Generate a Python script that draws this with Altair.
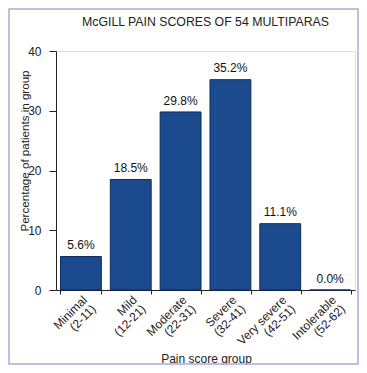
import altair as alt
import pandas as pd

categories = ["Minimal\n(2-11)", "Mild\n(12-21)", "Moderate\n(22-31)",
              "Severe\n(32-41)", "Very severe\n(42-51)", "Intolerable\n(52-62)"]
percentages = [5.6, 18.5, 29.8, 35.2, 11.1, 0.0]
value_labels = ["5.6%", "18.5%", "29.8%", "35.2%", "11.1%", "0.0%"]
y_ticks = [0, 5, 10, 15, 20, 25, 30, 35, 40]

df = pd.DataFrame({"cat": categories, "pct": percentages, "lab": value_labels})

W, H = 299, 239
FONT = "Liberation Sans"
BAR = "#1c4a8e"

x_enc = alt.X(
    "cat:N", sort=categories,
    scale=alt.Scale(paddingInner=0.18, paddingOuter=0.09),
    axis=alt.Axis(
        title="Pain score group", labelAngle=-45, labelAlign="right", labelBaseline="top",
        labelExpr="split(datum.label, '\\n')", tickBand="extent", tickSize=4, labelPadding=0,
        labelFontSize=12, labelFont=FONT, labelColor="#222222", labelLineHeight=12.5,
        titleFontSize=12, titleFont=FONT, titleFontWeight="normal", titleColor="#222222",
        titleX=150, titleY=72, titleBaseline="alphabetic", titleAlign="center",
        domainColor="#222222", tickColor="#222222",
    ),
)
y_enc = alt.Y(
    "pct:Q",
    scale=alt.Scale(domain=[0, 40], nice=False),
    axis=alt.Axis(
        title="Percentage of patients in group", values=y_ticks, grid=False,
        labelExpr="datum.value % 10 === 0 ? datum.label : ''",
        tickSize={"condition": {"test": "datum.value % 10 === 0", "value": 7}, "value": 3},
        labelPadding=8, labelFontSize=12, labelFont=FONT, labelColor="#222222",
        titleFontSize=11.6, titleFont=FONT, titleFontWeight="normal", titleColor="#222222",
        titleX=-28, titleY=99.5, titleBaseline="alphabetic", titleAngle=-90, titleAlign="center",
        domainColor="#222222", tickColor="#222222",
    ),
)

base = alt.Chart(df)

bars = base.mark_bar(color=BAR, stroke="#0d2b5e", strokeWidth=1).encode(x=x_enc, y=y_enc)

boxes = base.mark_bar(width=37, fill="white", yOffset=-5, y2Offset=-16.5).encode(
    x=alt.X("cat:N", sort=categories), y=alt.Y("pct:Q"), y2=alt.Y2("pct")
)

texts = base.mark_text(dy=-7.3, baseline="alphabetic", fontSize=12, font=FONT, color="#111111").encode(
    x=alt.X("cat:N", sort=categories), y=alt.Y("pct:Q"), text="lab:N"
)

frame = alt.Chart(pd.DataFrame({"f": [0]})).mark_rect(
    fill="transparent", stroke="#a4aedb", strokeWidth=1.5
).encode(x=alt.value(-47), x2=alt.value(W + 3), y=alt.value(-42), y2=alt.value(H + 74))

chart = alt.layer(bars, boxes, texts, frame).properties(
    width=W, height=H,
    title=alt.TitleParams("McGILL PAIN SCORES OF 54 MULTIPARAS", fontSize=12.3, font=FONT,
                          fontWeight="normal", anchor="middle", offset=-30.5, baseline="alphabetic",
                          frame="group", color="#222222"),
    autosize=alt.AutoSizeParams(type="none"),
    padding={"left": 48, "top": 43, "right": 4, "bottom": 75},
).configure_view(fill="#edf0f8", stroke="transparent").configure(background="white")

chart.save("out.html", embed_options={"renderer": "svg", "actions": False})
